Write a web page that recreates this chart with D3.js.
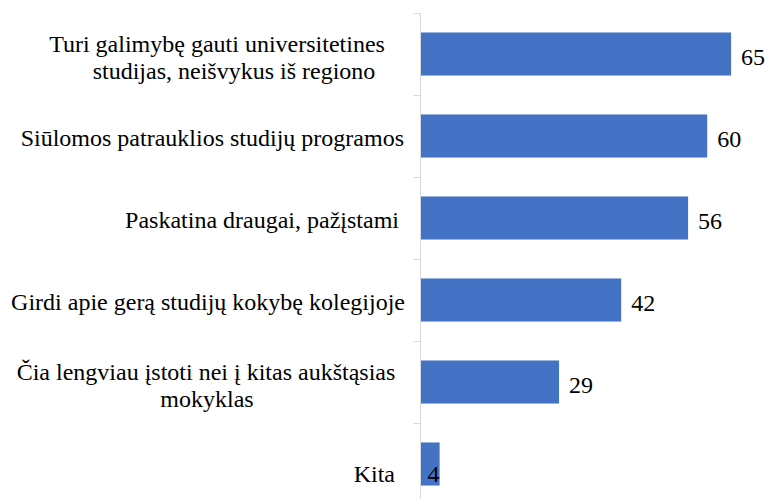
<!DOCTYPE html>
<html>
<head>
<meta charset="utf-8">
<script src="https://cdn.jsdelivr.net/npm/d3@7"></script>
<style>
  body { margin: 0; background: #fff; }
</style>
</head>
<body>
<div id="chart"></div>
<script>
// categories (lines of each label) and values
const categories = [
  ["Turi galimybę gauti universitetines", "studijas, neišvykus iš regiono"],
  ["Siūlomos patrauklios studijų programos"],
  ["Paskatina draugai, pažįstami"],
  ["Girdi apie gerą studijų kokybę kolegijoje"],
  ["Čia lengviau įstoti nei į kitas aukštąsias", "mokyklas"],
  ["Kita"]
];
const values = [65, 60, 56, 42, 29, 4];

// label layout: x of each line (end anchor for one line, middle anchor for two)
const labelX = [[217, 234], [404], [399], [405], [206, 207], [395]];

const data = categories.map((c, i) => ({ key: "c" + i, i: i, lines: c, value: values[i] }));

/* Sizing */
const width = 765, height = 499;
const axisX = 420.5;
const font = "Liberation Serif";

const svg = d3.select("#chart").append("svg")
  .attr("width", width)
  .attr("height", height);

/* X values */
const xScale = d3.scaleLinear().domain([0, 70]).range([axisX, 755]);

/* Y values */
const yScale = d3.scaleBand()
  .domain(data.map(d => d.key))
  .range([13, 505])
  .paddingInner(0.475)
  .paddingOuter(0.2375);

const step = yScale.step();
const bandTop = d => yScale(d.key) - yScale.paddingOuter() * step;
const mid = d => yScale(d.key) + yScale.bandwidth() / 2;
const lastKey = data[data.length - 1].key;

// bars
svg.selectAll(".bar")
  .data(data)
  .join("rect")
  .attr("class", "bar")
  .attr("x", xScale(0))
  .attr("y", d => yScale(d.key))
  .attr("width", d => xScale(d.value) - xScale(0))
  .attr("height", yScale.bandwidth())
  .attr("fill", "#4472C4");

// vertical axis line + ticks at band boundaries
const axis = svg.append("g").attr("stroke", "#d9d9d9").attr("stroke-width", 1);
axis.append("line")
  .attr("x1", axisX).attr("x2", axisX)
  .attr("y1", 13).attr("y2", height);
axis.selectAll(".tick")
  .data(data)
  .join("line")
  .attr("x1", axisX - 7).attr("x2", axisX)
  .attr("y1", d => Math.round(bandTop(d)) + 0.5)
  .attr("y2", d => Math.round(bandTop(d)) + 0.5);

// value labels
svg.selectAll(".val")
  .data(data)
  .join("text")
  .attr("class", "val")
  .attr("font-family", font)
  .attr("font-size", 24)
  .attr("x", d => d.value < 5 ? xScale(0) + 7 : xScale(d.value) + 10)
  .attr("y", d => mid(d) + (d.key === lastKey ? 18 : 11))
  .text(d => d.value);

// category labels
svg.selectAll(".cat")
  .data(data)
  .join("text")
  .attr("class", "cat")
  .attr("font-family", font)
  .attr("font-size", 24)
  .attr("text-anchor", d => d.lines.length > 1 ? "middle" : "end")
  .each(function (d) {
    const cy = mid(d) + (d.key === lastKey ? 18 : 10);
    const n = d.lines.length;
    d3.select(this).selectAll("tspan")
      .data(d.lines)
      .join("tspan")
      .attr("x", (line, j) => labelX[d.i][j])
      .attr("y", (line, j) => n === 1 ? cy : cy + (j === 0 ? -12 : 15))
      .text(line => line);
  });
</script>
</body>
</html>
